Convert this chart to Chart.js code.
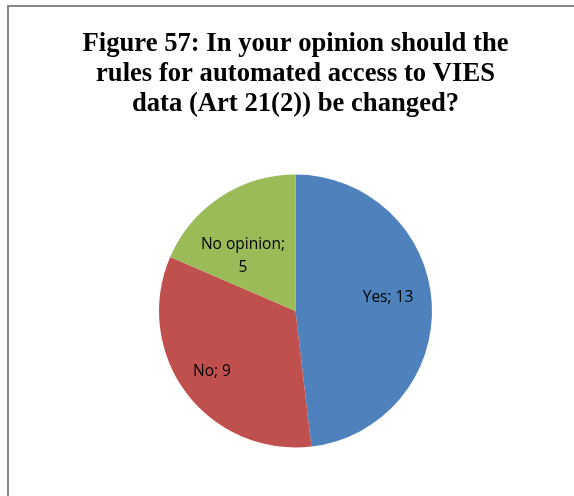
<!DOCTYPE html>
<html>
<head>
<meta charset="utf-8">
<script src="https://cdn.jsdelivr.net/npm/chart.js@4/dist/chart.umd.min.js"></script>
<style>
  html, body { margin: 0; padding: 0; background: #fff; overflow: hidden; }
  #frame { position: absolute; left: 7px; top: 5px; width: 600px; height: 600px; border: 2px solid #878787; }
  #pie { position: absolute; left: 0; top: 0; }
</style>
</head>
<body>
<div id="frame"></div>
<canvas id="pie" width="574" height="496"></canvas>
<script>
// chart values
const categories = ['Yes', 'No', 'No opinion'];
const answers = [13, 9, 5];
const sliceColors = ['#4F81BD', '#C0504D', '#9BBB59'];
const titleLines = [
    'Figure 57: In your opinion should the',
    'rules for automated access to VIES',
    'data (Art 21(2)) be changed?'
];

// where each data label sits, as a fraction of the radius from the centre
const labelSpots = [[0.678, -0.095], [-0.612, 0.447], [-0.385, -0.40]];

// draws "Category; value" inside each slice
const sliceLabels = {
    id: 'sliceLabels',
    afterDatasetsDraw(chart) {
        const ctx = chart.ctx;
        const arcs = chart.getDatasetMeta(0).data;
        ctx.save();
        ctx.fillStyle = '#000';
        ctx.font = '15.5px "Open Sans", sans-serif';
        ctx.textAlign = 'center';
        ctx.textBaseline = 'middle';
        arcs.forEach((arc, i) => {
            const r = arc.outerRadius;
            const x = arc.x + labelSpots[i][0] * r;
            const y = arc.y + labelSpots[i][1] * r;
            const text = categories[i] + '; ' + answers[i];
            if (ctx.measureText(text).width > 90) {
                // wrap long labels the way the original does
                ctx.fillText(categories[i] + ';', x, y - 11.5);
                ctx.fillText(String(answers[i]), x, y + 11.5);
            } else {
                ctx.fillText(text, x, y);
            }
        });
        ctx.restore();
    }
};

new Chart(document.getElementById('pie'), {
    type: 'pie',
    data: {
        labels: categories,
        datasets: [{
            data: answers,
            backgroundColor: sliceColors,
            borderWidth: 0
        }]
    },
    options: {
        responsive: false,
        animation: false,
        layout: { padding: { left: 17, right: 0, top: 0, bottom: 48.5 } },
        plugins: {
            legend: { display: false },
            tooltip: { enabled: false },
            title: {
                display: true,
                text: titleLines,
                color: '#000',
                font: { family: '"Liberation Serif", "Times New Roman", serif', size: 26.67, weight: 'bold', lineHeight: 1.125 },
                padding: { top: 29, bottom: 55.5 }
            }
        }
    },
    plugins: [sliceLabels]
});
</script>
</body>
</html>
